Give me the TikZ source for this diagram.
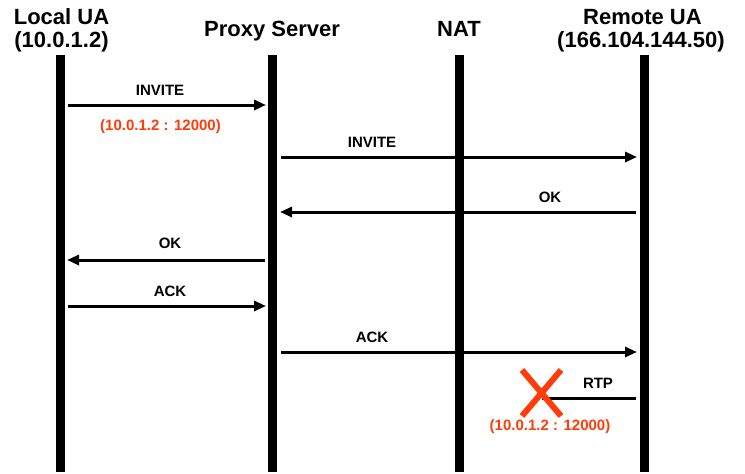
\documentclass[tikz,border=0pt]{standalone}
\usepackage{fontspec}
\setmainfont{Liberation Sans}
\usetikzlibrary{arrows.meta}
\definecolor{addr}{RGB}{255,60,10}
\begin{document}
\begin{tikzpicture}[x=1pt,y=-1pt,
  head/.style={font=\bfseries\fontsize{22}{24}\selectfont, inner sep=0pt, anchor=base},
  life/.style={line width=9pt},
  msg/.style={line width=3pt, -{Triangle[length=12pt,width=10pt]}},
  lbl/.style={font=\bfseries\fontsize{15}{17}\selectfont, inner sep=0pt, anchor=base},
  red lbl/.style={lbl, text=addr},
]
\useasboundingbox (0,0) rectangle (745,474);
% headers
\node[head] (hL1) at (61.5,24) {Local UA};
\node[head] (hL2) at (61.5,47) {(10.0.1.2)};
\node[head] (hP) at (272,36.5) {Proxy Server};
\node[head] (hN) at (459,36.5) {NAT};
\node[head] (hR1) at (642.5,24.5) {Remote UA};
\node[head] (hR2) at (641,47.5) {(166.104.144.50)};
% lifelines
\coordinate (Lt) at (60,55);   \coordinate (Lb) at (60,472);
\coordinate (Pt) at (272,55);  \coordinate (Pb) at (272,472);
\coordinate (Nt) at (459,55);  \coordinate (Nb) at (459,472);
\coordinate (Rt) at (644,55);  \coordinate (Rb) at (644,472);
\draw[life] (Lt) -- (Lb);
\draw[life] (Pt) -- (Pb);
\draw[life] (Nt) -- (Nb);
\draw[life] (Rt) -- (Rb);
% message end points
\coordinate (m1a) at (68,105);  \coordinate (m1b) at (266,105);
\coordinate (m2a) at (281,157); \coordinate (m2b) at (637,157);
\coordinate (m3a) at (636,212); \coordinate (m3b) at (280,212);
\coordinate (m4a) at (265,260); \coordinate (m4b) at (67,260);
\coordinate (m5a) at (68,306);  \coordinate (m5b) at (266,306);
\coordinate (m6a) at (281,352); \coordinate (m6b) at (637,352);
\coordinate (m7a) at (636,398); \coordinate (m7b) at (542,398);
\draw[msg] (m1a) -- (m1b);
\draw[msg] (m2a) -- (m2b);
\draw[msg] (m3a) -- (m3b);
\draw[msg] (m4a) -- (m4b);
\draw[msg] (m5a) -- (m5b);
\draw[msg] (m6a) -- (m6b);
\draw[line width=3pt] (m7a) -- (m7b);
% labels
\node[lbl] (l1) at (160,95.5) {INVITE};
\node[red lbl] (r1) at (160.5,130.5) {(10.0.1.2 : 12000)};
\node[lbl] (l2) at (372,147.5) {INVITE};
\node[lbl] (l3) at (550,202.5) {OK};
\node[lbl] (l4) at (170,248.5) {OK};
\node[lbl] (l5) at (170,296.5) {ACK};
\node[lbl] (l6) at (372,342.5) {ACK};
\node[lbl] (l7) at (598,388) {RTP};
\node[red lbl] (r7) at (550,430) {(10.0.1.2 : 12000)};
% cross
\coordinate (x1) at (522,370); \coordinate (x2) at (561,416);
\coordinate (x3) at (561,370); \coordinate (x4) at (522,416);
\draw[addr, line width=6pt] (x1) -- (x2);
\draw[addr, line width=6pt] (x3) -- (x4);
\end{tikzpicture}
\end{document}
